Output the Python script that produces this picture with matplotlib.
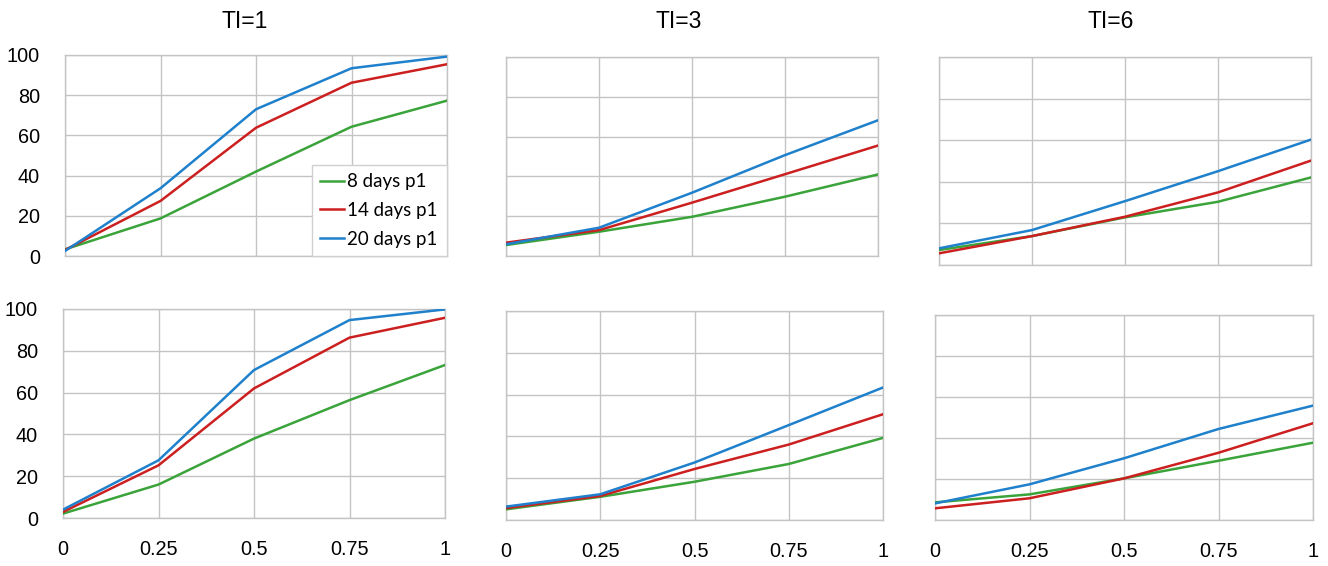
import matplotlib
matplotlib.use('Agg')
import matplotlib.pyplot as plt

plt.rcParams['font.family'] = ['Liberation Sans', 'DejaVu Sans']

X = [0, 0.25, 0.5, 0.75, 1]
X_LABELS = ['0', '0.25', '0.5', '0.75', '1']
TITLES = ['TI=1', 'TI=3', 'TI=6']
SERIES = ['8 days p1', '14 days p1', '20 days p1']
COLORS = ['#3aa33a', '#cc1f1f', '#1f80cc']

# percentage values, rows = panel row, cols = TI
top_ti1 = {'8 days p1': [3.3, 18.7, 42.0, 64.3, 77.3],
           '14 days p1': [3.0, 27.4, 63.8, 86.2, 95.4],
           '20 days p1': [2.5, 33.7, 73.0, 93.4, 99.2]}
top_ti3 = {'8 days p1': [5.5, 12.2, 19.7, 29.8, 41.0],
           '14 days p1': [6.7, 13.0, 26.8, 41.1, 55.5],
           '20 days p1': [5.9, 14.2, 31.8, 50.7, 68.2]}
top_ti6 = {'8 days p1': [7.2, 13.9, 22.9, 30.4, 42.1],
           '14 days p1': [5.6, 13.9, 23.2, 34.9, 50.2],
           '20 days p1': [8.0, 16.8, 30.7, 45.1, 60.3]}
bot_ti1 = {'8 days p1': [2.1, 16.0, 38.0, 56.4, 73.2],
           '14 days p1': [2.9, 25.2, 62.0, 86.3, 95.8],
           '20 days p1': [4.0, 27.6, 70.8, 94.7, 99.8]}
bot_ti3 = {'8 days p1': [5.1, 11.1, 18.3, 26.8, 39.3],
           '14 days p1': [5.7, 11.5, 24.4, 36.1, 50.6],
           '20 days p1': [6.4, 12.3, 27.5, 45.4, 63.4]}
bot_ti6 = {'8 days p1': [8.6, 12.5, 20.3, 28.9, 37.7],
           '14 days p1': [5.7, 10.6, 20.3, 32.8, 47.2],
           '20 days p1': [8.1, 17.4, 30.1, 44.4, 55.8]}

PANELS = [[top_ti1, top_ti3, top_ti6], [bot_ti1, bot_ti3, bot_ti6]]

W, H = 1328, 566
# panel boxes in pixels: (x0, y0, x1, y1) measured from top-left
BOXES = [[(65, 55, 447, 256), (506, 57, 878, 256), (939, 57, 1311, 265)],
         [(63, 309, 445, 518), (506, 311, 883, 520), (935, 315, 1313, 520)]]

fig = plt.figure(figsize=(W / 100, H / 100), dpi=100)
GRID = '#c4c4c4'

for r in range(2):
    for c in range(3):
        x0, y0, x1, y1 = BOXES[r][c]
        ax = fig.add_axes([x0 / W, 1 - y1 / H, (x1 - x0) / W, (y1 - y0) / H])
        data = PANELS[r][c]
        for name, col in zip(SERIES, COLORS):
            ax.plot(X, data[name], color=col, lw=1.8, label=name, zorder=3,
                    solid_joinstyle='round')
        ax.set_xlim(0, 1)
        ax.set_ylim(0, 100)
        ax.set_xticks(X)
        ax.set_yticks(range(0, 101, 20))
        ax.grid(True, color=GRID, lw=1.0)
        ax.set_axisbelow(True)
        for s in ax.spines.values():
            s.set_color(GRID)
            s.set_linewidth(1.0)
        ax.tick_params(length=0, labelsize=14.3, colors='black')
        ax.tick_params(axis='x', pad=16)
        ax.tick_params(axis='y', pad=18)
        if r == 1:
            ax.set_xticklabels(X_LABELS)
        else:
            ax.set_xticklabels([])
        if c != 0:
            ax.set_yticklabels([])
        if r == 0 and c == 0:
            # legend box stretched over the lower right corner
            leg = ax.legend(loc='lower left', bbox_to_anchor=(0.646, 0.0, 0.354, 0.45),
                            mode='expand', borderaxespad=0, fancybox=False,
                            framealpha=1, edgecolor='#d0d0d0',
                            prop={'family': 'Lato', 'size': 13.5},
                            handlelength=1.25, handletextpad=0.18,
                            labelspacing=0.62, borderpad=0.45)
            leg.get_frame().set_linewidth(1.0)

# column titles
for cx, t in zip([245, 679, 1111], TITLES):
    fig.text(cx / W, 1 - 22 / H, t, ha='center', va='center', fontsize=16.5)

fig.savefig('out.png', dpi=100)
